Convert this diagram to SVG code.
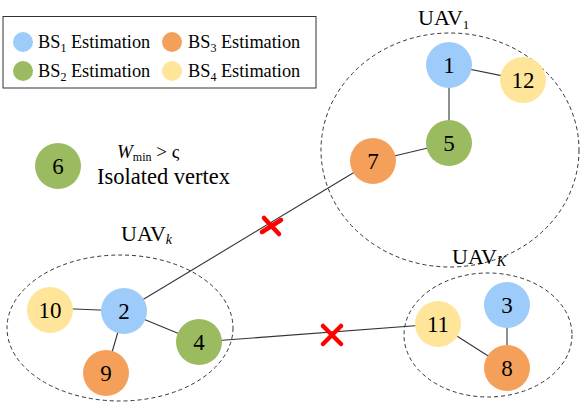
<svg xmlns="http://www.w3.org/2000/svg" width="581" height="405" viewBox="0 0 581 405">
<style>
text{font-family:"Liberation Serif","Times New Roman","DejaVu Serif",serif;fill:#000}
.num{font-size:23px;text-anchor:middle;dominant-baseline:central}
.lg{font-size:18.3px}
.uav{font-size:22px}
.b{fill:#9dcbfa}.o{fill:#f5a05a}.g{fill:#9bbb60}.y{fill:#fee59a}
.edge{stroke:#333;stroke-width:1.1;fill:none}
.grp{stroke:#333;stroke-width:1;stroke-dasharray:4 3;fill:none}
.x{stroke:#f00;stroke-width:4.5;stroke-linecap:round}
</style>
<rect width="581" height="405" fill="#fff"/>
<g id="legend">
<rect x="3" y="16.5" width="313" height="71.5" fill="#fff" stroke="#333" stroke-width="1"/>
<circle class="b" cx="23" cy="42" r="10"/>
<text class="lg" x="38" y="48" font-family="Liberation Serif, serif">BS<tspan font-size="12" dy="4">1</tspan><tspan dy="-4"> Estimation</tspan></text>
<circle class="g" cx="23" cy="71" r="10"/>
<text class="lg" x="38" y="77" font-family="Liberation Serif, serif">BS<tspan font-size="12" dy="4">2</tspan><tspan dy="-4"> Estimation</tspan></text>
<circle class="o" cx="172" cy="42" r="10"/>
<text class="lg" x="188" y="48" font-family="Liberation Serif, serif">BS<tspan font-size="12" dy="4">3</tspan><tspan dy="-4"> Estimation</tspan></text>
<circle class="y" cx="172" cy="71" r="10"/>
<text class="lg" x="188" y="77" font-family="Liberation Serif, serif">BS<tspan font-size="12" dy="4">4</tspan><tspan dy="-4"> Estimation</tspan></text>
</g>
<g id="groups">
<ellipse class="grp" cx="450" cy="150" rx="129" ry="117"/>
<ellipse class="grp" cx="120" cy="328" rx="113" ry="73"/>
<ellipse class="grp" cx="488" cy="335" rx="84" ry="62"/>
<text class="uav" x="418" y="25" font-family="Liberation Serif, serif">UAV<tspan font-size="13" dy="4">1</tspan></text>
<text class="uav" x="121" y="241" font-family="Liberation Serif, serif">UAV<tspan font-size="14" font-style="italic" dy="3">k</tspan></text>
<text class="uav" x="452" y="264" font-family="Liberation Serif, serif">UAV<tspan font-size="14" font-style="italic" dy="2">K</tspan></text>
</g>
<g id="connectors">
<line class="edge" x1="449" y1="65" x2="523" y2="80"/>
<line class="edge" x1="449" y1="65" x2="449" y2="143"/>
<line class="edge" x1="449" y1="143" x2="373" y2="161"/>
<line class="edge" x1="373" y1="161" x2="124" y2="311"/>
<line class="edge" x1="124" y1="311" x2="50" y2="308"/>
<line class="edge" x1="124" y1="311" x2="106" y2="373"/>
<line class="edge" x1="124" y1="311" x2="199" y2="342"/>
<line class="edge" x1="199" y1="342" x2="438" y2="324"/>
<line class="edge" x1="438" y1="324" x2="507" y2="368"/>
<line class="edge" x1="507" y1="305" x2="507" y2="368"/>
<g id="cut1"><line class="x" x1="264" y1="218" x2="279" y2="234"/><line class="x" x1="262" y1="232" x2="281" y2="220"/></g>
<g id="cut2"><line class="x" x1="323" y1="326" x2="341" y2="344"/><line class="x" x1="323" y1="344" x2="341" y2="326"/></g>
</g>
<g id="n1"><circle class="b" cx="449" cy="65" r="23"/><text class="num" x="449" y="65" font-family="Liberation Serif, serif">1</text></g>
<g id="n12"><circle class="y" cx="523" cy="80" r="23"/><text class="num" x="523" y="80" font-family="Liberation Serif, serif">12</text></g>
<g id="n5"><circle class="g" cx="449" cy="143" r="23"/><text class="num" x="449" y="143" font-family="Liberation Serif, serif">5</text></g>
<g id="n7"><circle class="o" cx="373" cy="161" r="23"/><text class="num" x="373" y="161" font-family="Liberation Serif, serif">7</text></g>
<g id="n6"><circle class="g" cx="58" cy="166" r="23"/><text class="num" x="58" y="166" font-family="Liberation Serif, serif">6</text></g>
<g id="n10"><circle class="y" cx="50" cy="310" r="23"/><text class="num" x="50" y="310" font-family="Liberation Serif, serif">10</text></g>
<g id="n2"><circle class="b" cx="124" cy="311" r="23"/><text class="num" x="124" y="311" font-family="Liberation Serif, serif">2</text></g>
<g id="n9"><circle class="o" cx="106" cy="373" r="23"/><text class="num" x="106" y="373" font-family="Liberation Serif, serif">9</text></g>
<g id="n4"><circle class="g" cx="199" cy="342" r="23"/><text class="num" x="199" y="342" font-family="Liberation Serif, serif">4</text></g>
<g id="n11"><circle class="y" cx="438" cy="324" r="23"/><text class="num" x="438" y="324" font-family="Liberation Serif, serif">11</text></g>
<g id="n3"><circle class="b" cx="507" cy="305" r="23"/><text class="num" x="507" y="305" font-family="Liberation Serif, serif">3</text></g>
<g id="n8"><circle class="o" cx="507" cy="368" r="23"/><text class="num" x="507" y="368" font-family="Liberation Serif, serif">8</text></g>
<g id="note">
<text x="117" y="158" font-size="19" font-family="Liberation Serif, serif"><tspan font-style="italic">W</tspan><tspan font-size="12" dy="3">min</tspan><tspan dy="-3"> &gt; ς</tspan></text>
<text x="97" y="184" font-size="22.5" font-family="Liberation Serif, serif">Isolated vertex</text>
</g>
</svg>
